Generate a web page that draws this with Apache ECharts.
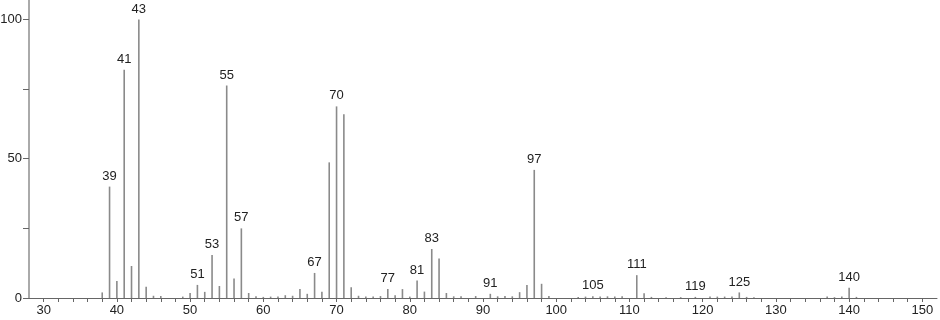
<!DOCTYPE html>
<html>
<head>
<meta charset="utf-8">
<script src="https://cdn.jsdelivr.net/npm/echarts@6/dist/echarts.min.js"></script>
<style>html,body{margin:0;padding:0;background:#fff;}#c{width:940px;height:320px;}</style>
</head>
<body>
<div id="c"></div>
<script>
// m/z values and relative intensities
const masses = [38,39,40,41,42,43,44,45,46,49,50,51,52,53,54,55,56,57,58,59,60,61,62,63,64,65,66,67,68,69,70,71,72,73,74,75,76,77,78,79,80,81,82,83,84,85,86,87,89,91,92,93,94,95,96,97,98,99,103,104,105,106,107,108,109,111,112,113,115,117,119,121,122,123,124,125,126,127,137,138,139,140,141];
const intensities = [2,40,6.1,82,11.5,100,4,0.8,0.7,0.5,1.8,4.7,2.2,15.4,4.3,76.3,7,25,1.8,0.6,0.4,0.5,0.5,1,0.8,3.2,1.5,9,2.2,48.7,68.8,66,3.9,0.8,0.5,0.5,0.7,3.2,1,3.2,0.5,6.3,2.3,17.6,14.2,1.8,0.6,0.6,0.7,1.5,0.6,0.7,0.6,2.1,4.7,46,5.1,0.7,0.4,0.5,0.6,0.5,0.6,0.5,0.6,8.2,1.7,0.4,0.3,0.3,0.4,0.5,0.5,0.5,0.5,2,0.4,0.3,0.5,0.3,0.5,3.7,0.4];
const labeledMasses = [39,41,43,51,53,55,57,67,70,77,81,83,91,97,105,111,119,125,140];
const xTickLabels = [30,40,50,60,70,80,90,100,110,120,130,140,150];
const yTickLabels = [0,50,100];

const FONT = 'Liberation Sans';
const data = masses.map((m, i) => {
  const item = { value: [m, intensities[i]] };
  if (labeledMasses.indexOf(m) >= 0) {
    item.label = { show: true, position: 'top', distance: 4, formatter: String(m),
      color: '#222', fontSize: 13, fontFamily: FONT };
  }
  return item;
});

const chart = echarts.init(document.getElementById('c'), null, { renderer: 'canvas' });
chart.setOption({
  animation: false,
  backgroundColor: '#fff',
  grid: { left: 29, right: 3, top: 0, bottom: 22, containLabel: false, outerBoundsMode: 'none' },
  xAxis: {
    type: 'value', min: 28, max: 152, interval: 2,
    axisLine: { show: true, lineStyle: { color: '#666', width: 1 } },
    axisTick: { show: true, length: 4, lineStyle: { color: '#666' } },
    splitLine: { show: false },
    axisLabel: {
      margin: 6, color: '#222', fontSize: 13, fontFamily: FONT,
      showMinLabel: false, showMaxLabel: false,
      formatter: v => xTickLabels.indexOf(v) >= 0 ? String(v) : ''
    }
  },
  yAxis: {
    type: 'value', min: 0, max: 107, interval: 25,
    axisLine: { show: true, lineStyle: { color: '#aaa', width: 2 } },
    axisTick: { show: true, length: 6, lineStyle: { color: '#666' } },
    splitLine: { show: false },
    axisLabel: {
      margin: 7, color: '#222', fontSize: 13, fontFamily: FONT,
      showMaxLabel: false,
      formatter: v => yTickLabels.indexOf(v) >= 0 ? String(v) : ''
    }
  },
  series: [{
    type: 'bar',
    barWidth: 1.6,
    itemStyle: { color: '#8a8a8a' },
    data: data
  }]
});
</script>
</body>
</html>
